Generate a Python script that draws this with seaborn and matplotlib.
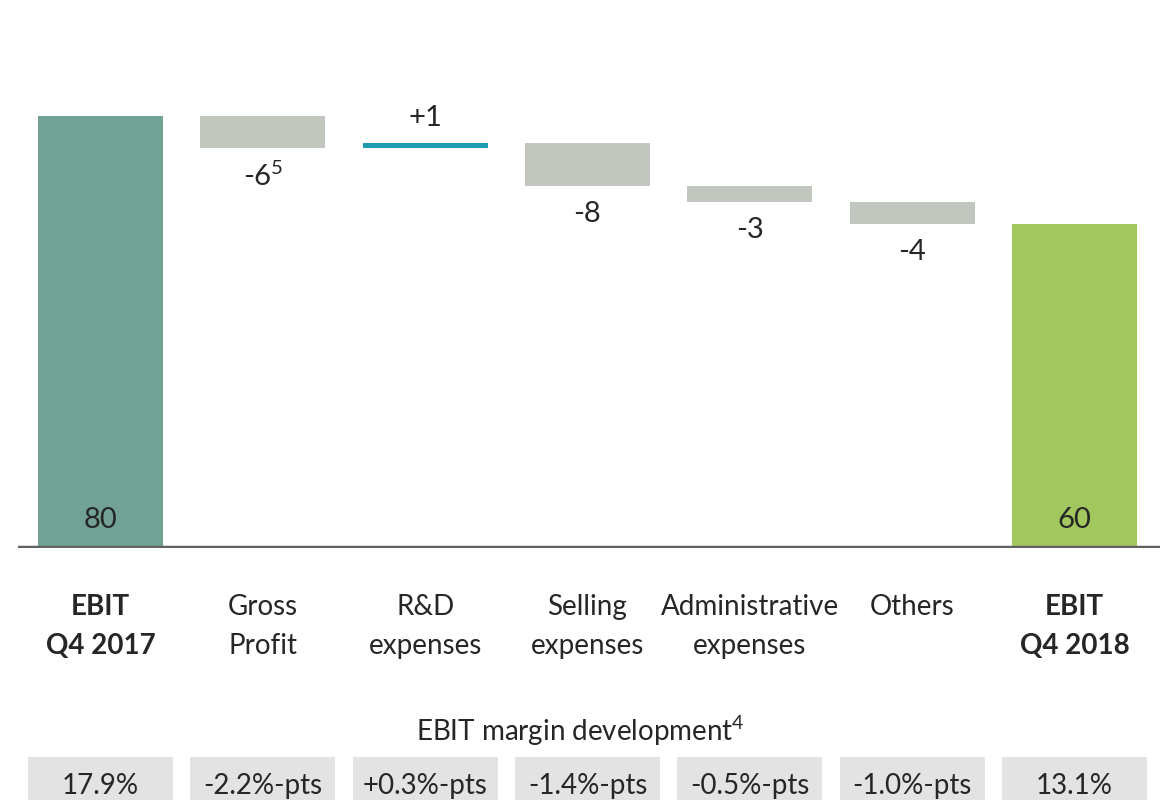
import numpy as np
import pandas as pd
import seaborn as sns
import matplotlib.pyplot as plt

# Chart data
steps = ['EBIT\nQ4 2017', 'Gross\nProfit', 'R&D\nexpenses', 'Selling\nexpenses',
         'Administrative\nexpenses', 'Others', 'EBIT\nQ4 2018']
deltas = [80, -6, 1, -8, -3, -4, 60]
is_total = [True, False, False, False, False, False, True]
value_labels = ['80', '-6$^{\\mathrm{5}}$', '+1', '-8', '-3', '-4', '60']
margins = ['17.9%', '-2.2%-pts', '+0.3%-pts', '-1.4%-pts', '-0.5%-pts', '-1.0%-pts', '13.1%']
bar_colors = ['#72a295', '#c1c6bf', '#1f9bb0', '#c1c6bf', '#c1c6bf', '#c1c6bf', '#a2c75f']

# running totals -> bar bottoms for the floating bars
bases = []
running = 0
for d, tot in zip(deltas, is_total):
    if tot:
        bases.append(0)
        running = d
    else:
        bases.append(running)
        running += d

df = pd.DataFrame({'step': steps, 'delta': deltas, 'base': bases})

sns.set_style('white')
plt.rcParams['font.family'] = ['Lato', 'DejaVu Sans']
plt.rcParams['mathtext.fontset'] = 'custom'
plt.rcParams['mathtext.rm'] = 'Lato'
txt_color = '#262626'

W, H = 1160, 800
fig = plt.figure(figsize=(W / 100, H / 100), dpi=100)
ax = fig.add_axes([18 / W, (H - 548) / H, 1142 / W, 548 / H])

sns.barplot(data=df, x='step', y='delta', bottom=df['base'].values, width=0.77,
            color='#c1c6bf', linewidth=0, ax=ax)
for patch, c in zip(ax.patches, bar_colors):
    patch.set_facecolor(c)
    patch.set_edgecolor('none')

ax.set_xlim(-0.508, 6.527)
ax.set_ylim(0, 101.5)
ax.axhline(0, color='#626262', lw=3.2, zorder=5)
ax.set_axis_off()

px = 0.72  # pixels -> points
for i, (d, b, tot, lab) in enumerate(zip(deltas, bases, is_total, value_labels)):
    if tot:
        y, off = 0, 28
    elif d > 0:
        y, off = b + d, 25
    else:
        y, off = b + d, -28
    ax.annotate(lab, xy=(i, y), xytext=(0, off * px), textcoords='offset points',
                ha='center', va='center', fontsize=21, color=txt_color)

for i, (s, tot) in enumerate(zip(steps, is_total)):
    ax.annotate(s, xy=(i, 0), xytext=(0, -46 * px), textcoords='offset points',
                ha='center', va='top', fontsize=20, linespacing=1.6,
                fontweight='bold' if tot else 'normal', color=txt_color,
                annotation_clip=False)

fig.text(0.5, 1 - 731 / H, 'EBIT margin development$^{\\mathrm{4}}$',
         ha='center', va='center', fontsize=20, color=txt_color)

# margin boxes along the bottom
bx = fig.add_axes([18 / W, 0, 1142 / W, 43 / H])
sns.barplot(x=steps, y=np.ones(len(steps)), width=0.893, color='#e3e3e3',
            linewidth=0, ax=bx)
bx.set_xlim(-0.508, 6.527)
bx.set_ylim(0, 1)
bx.set_axis_off()
for i, m in enumerate(margins):
    bx.text(i, 0.33, m, ha='center', va='center', fontsize=20, color=txt_color)

fig.savefig('out.png', dpi=100)
